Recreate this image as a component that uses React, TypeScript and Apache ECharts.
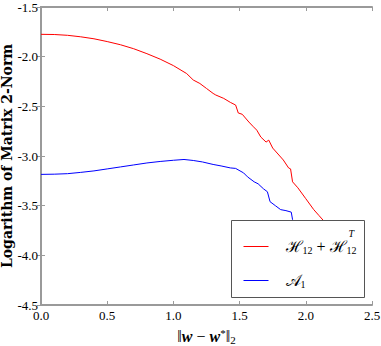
import React, { useEffect, useRef } from "react";
import * as echarts from "echarts";

const xTicks = [0, 0.5, 1.0, 1.5, 2.0, 2.5];
const yTicks = [-4.5, -4.0, -3.5, -3.0, -2.5, -2.0, -1.5];

const seriesNames = ["H12 + H12^T", "A1"];

const redData: number[][] = [
  [0, -1.775], [0.1, -1.777], [0.2, -1.785], [0.3, -1.8], [0.4, -1.82], [0.5, -1.848],
  [0.6, -1.88], [0.7, -1.92], [0.8, -1.97], [0.9, -2.025], [1.0, -2.09], [1.1, -2.17],
  [1.15, -2.235], [1.2, -2.27], [1.25, -2.32], [1.3, -2.37], [1.32, -2.386], [1.38, -2.42],
  [1.43, -2.46], [1.47, -2.487], [1.49, -2.567], [1.52, -2.58], [1.57, -2.658], [1.6, -2.7],
  [1.63, -2.74], [1.66, -2.809], [1.7, -2.86], [1.72, -2.84], [1.75, -2.92], [1.79, -2.98],
  [1.83, -3.04], [1.87, -3.12], [1.885, -3.13], [1.9, -3.26], [1.94, -3.32], [2.0, -3.43],
  [2.06, -3.54], [2.1, -3.6], [2.13, -3.645], [2.2, -3.76], [2.25, -3.85],
];

const blueData: number[][] = [
  [0, -3.185], [0.1, -3.183], [0.2, -3.178], [0.3, -3.165], [0.4, -3.15], [0.5, -3.13],
  [0.6, -3.11], [0.7, -3.09], [0.8, -3.07], [0.9, -3.055], [1.0, -3.043], [1.08, -3.035],
  [1.15, -3.045], [1.22, -3.06], [1.3, -3.085], [1.36, -3.1], [1.43, -3.12], [1.47, -3.125],
  [1.53, -3.17], [1.56, -3.21], [1.61, -3.26], [1.64, -3.28], [1.68, -3.33], [1.71, -3.36],
  [1.73, -3.46], [1.77, -3.5], [1.81, -3.54], [1.85, -3.55], [1.89, -3.565], [1.9, -3.64],
  [1.92, -3.75],
];

const AXIS_COLOR = "#9a9a9a";
const SERIF = "'Liberation Serif', 'DejaVu Serif', serif";

export default function App() {
  const ref = useRef<HTMLDivElement>(null);
  useEffect(() => {
    if (!ref.current) return;
    const chart = echarts.init(ref.current, undefined, { renderer: "svg" });
    const tickLabel = { color: "#000", fontFamily: SERIF, fontSize: 13 };
    const baseAxis = {
      axisLine: { show: true, lineStyle: { color: AXIS_COLOR, width: 2 } },
      axisTick: { show: true, inside: true, length: 4, lineStyle: { color: AXIS_COLOR, width: 1 } },
      splitLine: { show: false },
    };
    const Z = 100;
    chart.setOption({
      animation: false,
      grid: { left: 41, top: 7, right: 9, bottom: 41, containLabel: false, outerBoundsMode: "none" },
      xAxis: [
        {
          type: "value", min: 0, max: 2.5, interval: 0.5, position: "bottom",
          ...baseAxis,
          axisLabel: { ...tickLabel, margin: 4, formatter: (v: number) => v.toFixed(1) },
          name: "{n|‖}{w|w}{n| − }{w|w}{s|*}{n|‖}{sub|2}",
          nameLocation: "middle",
          nameGap: 22,
          nameMoveOverlap: false,
          nameTextStyle: {
            rich: {
              n: { fontFamily: SERIF, fontSize: 16, color: "#000" },
              w: { fontFamily: SERIF, fontSize: 16, fontWeight: "bold", fontStyle: "italic", color: "#000" },
              s: { fontFamily: SERIF, fontSize: 11, color: "#000", padding: [0, 0, 6, 0] },
              sub: { fontFamily: SERIF, fontSize: 11, color: "#000", padding: [7, 0, 0, 0] },
            },
          },
        },
        {
          type: "value", min: 0, max: 2.5, interval: 0.5, position: "top",
          ...baseAxis,
          axisLabel: { show: false },
        },
      ],
      yAxis: [
        {
          type: "value", min: -4.5, max: -1.5, interval: 0.5, position: "left",
          ...baseAxis,
          axisLabel: { ...tickLabel, margin: 3, formatter: (v: number) => v.toFixed(1) },
          name: "Logarithm of Matrix 2-Norm",
          nameLocation: "middle",
          nameGap: 27,
          nameMoveOverlap: false,
          nameTextStyle: { fontFamily: "'DejaVu Serif', serif", fontWeight: "bold", fontSize: 14, color: "#000" },
        },
        {
          type: "value", min: -4.5, max: -1.5, interval: 0.5, position: "right",
          ...baseAxis,
          axisLabel: { show: false },
        },
      ],
      series: [
        {
          name: seriesNames[0], type: "line", data: redData, showSymbol: false, symbol: "none",
          lineStyle: { color: "#ff0000", width: 1 }, itemStyle: { color: "#ff0000" }, z: 2,
        },
        {
          name: seriesNames[1], type: "line", data: blueData, showSymbol: false, symbol: "none",
          lineStyle: { color: "#0000ff", width: 1 }, itemStyle: { color: "#0000ff" }, z: 2,
        },
      ],
      graphic: [
        {
          type: "group", left: 231, top: 220, z: Z,
          children: [
            { type: "rect", z: Z, shape: { x: 0, y: 0, width: 133, height: 77 }, style: { fill: "#fff", stroke: "#555", lineWidth: 1 } },
            { type: "line", z: Z + 1, shape: { x1: 12, y1: 26, x2: 37, y2: 26 }, style: { stroke: "#ff0000", lineWidth: 1 } },
            { type: "line", z: Z + 1, shape: { x1: 12, y1: 60, x2: 37, y2: 60 }, style: { stroke: "#0000ff", lineWidth: 1 } },
            {
              type: "text", z: Z + 1, x: 54, y: 26,
              style: {
                text: "{h|ℋ}{sb|12}{n| + }{h|ℋ}{sb|12}",
                verticalAlign: "middle",
                rich: {
                  h: { fontFamily: "'DejaVu Serif', serif", fontSize: 16, fill: "#000" },
                  n: { fontFamily: SERIF, fontSize: 16, fill: "#000" },
                  sb: { fontFamily: SERIF, fontSize: 10, fill: "#000", padding: [7, 0, 0, 0] },
                },
              },
            },
            { type: "text", z: Z + 1, x: 117, y: 13, style: { text: "T", fontFamily: SERIF, fontStyle: "italic", fontSize: 10, fill: "#000", verticalAlign: "middle" } },
            {
              type: "text", z: Z + 1, x: 54, y: 60,
              style: {
                text: "{h|𝒜}{sb|1}",
                verticalAlign: "middle",
                rich: {
                  h: { fontFamily: "'DejaVu Serif', 'DejaVu Sans', serif", fontSize: 16, fill: "#000" },
                  sb: { fontFamily: SERIF, fontSize: 10, fill: "#000", padding: [7, 0, 0, 0] },
                },
              },
            },
          ],
        },
      ],
    });
    return () => chart.dispose();
  }, []);
  return <div ref={ref} style={{ width: 381, height: 346, position: "absolute", left: 0, top: 0 }} />;
}
